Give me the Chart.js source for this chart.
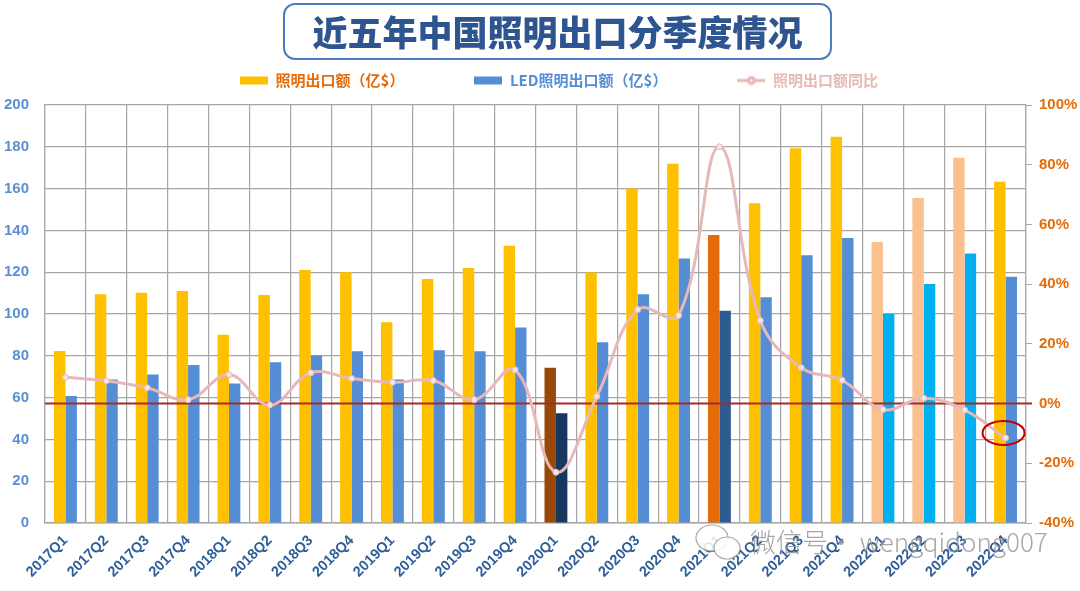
<!DOCTYPE html>
<html>
<head>
<meta charset="utf-8">
<script src="https://cdn.jsdelivr.net/npm/chart.js@4.4.0/dist/chart.umd.min.js"></script>
<style>
  html, body { margin: 0; padding: 0; background: #fff; }
  #wrap { position: relative; width: 1080px; height: 591px; }
  #title {
    position: absolute; left: 283px; top: 3px; width: 549px; height: 57px;
    box-sizing: border-box; border: 2.5px solid #4a7cc4; border-radius: 12px;
    text-align: center; line-height: 52px;
    font: 900 35px "Noto Sans CJK SC", sans-serif; color: #2f5590;
    background: #fff; z-index: 2;
  }
  canvas { position: absolute; left: 0; top: 0; }
</style>
</head>
<body>
<div id="wrap">
  <div id="title">近五年中国照明出口分季度情况</div>
  <canvas id="chart" width="1080" height="591"></canvas>
</div>
<script>
// quarters 2017Q1 .. 2022Q4
const quarters = [
  "2017Q1", "2017Q2", "2017Q3", "2017Q4",
  "2018Q1", "2018Q2", "2018Q3", "2018Q4",
  "2019Q1", "2019Q2", "2019Q3", "2019Q4",
  "2020Q1", "2020Q2", "2020Q3", "2020Q4",
  "2021Q1", "2021Q2", "2021Q3", "2021Q4",
  "2022Q1", "2022Q2", "2022Q3", "2022Q4"
];
// 照明出口额（亿$）
const lightingExport = [
  82.3, 109.4, 110.2, 111.0,
  90.1, 109.1, 121.0, 120.0,
  96.0, 116.7, 122.0, 132.7,
  74.3, 119.8, 160.1, 171.9,
  137.8, 153.0, 179.3, 184.8,
  134.4, 155.5, 174.8, 163.3
];
// LED照明出口额（亿$）
const ledExport = [
  60.8, 68.7, 71.1, 75.6,
  66.7, 76.9, 80.2, 82.2,
  68.7, 82.6, 82.2, 93.6,
  52.5, 86.5, 109.4, 126.5,
  101.6, 108.0, 128.1, 136.4,
  100.0, 114.4, 128.9, 117.8
];
// 照明出口额同比 (%)
const lightingYoY = [
  8.8, 7.6, 5.3, 1.3,
  9.7, -0.5, 10.3, 8.4,
  7.1, 7.7, 1.3, 11.3,
  -23.0, 2.4, 31.5, 29.5,
  86.0, 27.8, 12.0, 7.8,
  -2.0, 1.8, -2.2, -11.5
];
const leftTicks = { min: 0, max: 200, step: 20 };
const rightTicks = { min: -40, max: 100, step: 20 };

// highlighted bars get their own colours
const yellowColors = quarters.map((q, i) => {
  if (i === 12) return "#984807";
  if (i === 16) return "#e36c09";
  if (i >= 20 && i <= 22) return "#fac090";
  return "#ffc000";
});
const blueColors = quarters.map((q, i) => {
  if (i === 12) return "#17375e";
  if (i === 16) return "#2e5b92";
  if (i >= 20 && i <= 22) return "#00b0f0";
  return "#558ed5";
});

// little legend swatches
function swatch(draw) {
  const c = document.createElement("canvas");
  c.width = 28; c.height = 10;
  draw(c.getContext("2d"));
  return c;
}
const yellowSwatch = swatch(ctx => { ctx.fillStyle = "#ffc000"; ctx.fillRect(0, 1, 28, 8); });
const blueSwatch = swatch(ctx => { ctx.fillStyle = "#558ed5"; ctx.fillRect(0, 1, 28, 8); });
const lineSwatch = swatch(ctx => {
  ctx.strokeStyle = "#e6b9b8"; ctx.lineWidth = 3;
  ctx.beginPath(); ctx.moveTo(0, 5); ctx.lineTo(28, 5); ctx.stroke();
  ctx.fillStyle = "#f7e4e4"; ctx.beginPath(); ctx.arc(14, 5, 3, 0, Math.PI * 2); ctx.fill(); ctx.stroke();
});

const legendHeight = {
  id: "legendHeight",
  beforeInit(chart) {
    const fit = chart.legend.fit;
    chart.legend.fit = function () {
      fit.bind(this)();
      this.height = 105;
    };
  },
  afterLayout(chart) {
    // nudge legend a bit right and down, like the original
    chart.legend.left += 19;
    chart.legend.right += 19;
    chart.legend.top += 3;
    chart.legend.bottom += 3;
  }
};

const zeroLine = {
  id: "zeroLine",
  beforeDatasetDraw(chart, args) {
    if (args.index !== 2) return;
    const { ctx, chartArea } = chart;
    const y = chart.scales.y1.getPixelForValue(0);
    ctx.save();
    ctx.strokeStyle = "#a52a2a";
    ctx.lineWidth = 2;
    ctx.beginPath();
    ctx.moveTo(chartArea.left, y);
    ctx.lineTo(chartArea.right + 6, y);
    ctx.stroke();
    ctx.restore();
  }
};

const extras = {
  id: "extras",
  afterDatasetsDraw(chart) {
    const { ctx } = chart;
    const pts = chart.getDatasetMeta(2).data;
    const p = pts[pts.length - 1];
    ctx.save();
    ctx.strokeStyle = "#c00000";
    ctx.lineWidth = 2;
    ctx.beginPath();
    ctx.ellipse(p.x - 2, p.y - 5, 21, 12, 0, 0, Math.PI * 2);
    ctx.stroke();
    ctx.restore();
  },
  afterDraw(chart) {
    // watermark
    const { ctx } = chart;
    ctx.save();
    ctx.strokeStyle = "rgba(150,150,150,0.8)";
    ctx.fillStyle = "rgba(255,255,255,0.85)";
    ctx.lineWidth = 1.2;
    ctx.beginPath(); ctx.ellipse(712, 538, 16, 13, 0, 0, Math.PI * 2); ctx.fill(); ctx.stroke();
    ctx.beginPath(); ctx.ellipse(727, 548, 13, 11, 0, 0, Math.PI * 2); ctx.fill(); ctx.stroke();
    ctx.font = "300 26px 'Noto Sans CJK SC', sans-serif";
    ctx.fillStyle = "rgba(150,150,150,0.85)";
    ctx.textBaseline = "middle";
    ctx.fillText("微信号· wengqidong007", 750, 542);
    ctx.restore();
  }
};

new Chart(document.getElementById("chart"), {
  data: {
    labels: quarters,
    datasets: [
      {
        type: "bar", label: "照明出口额（亿$）", data: lightingExport,
        backgroundColor: yellowColors, yAxisID: "y", order: 2,
        categoryPercentage: 0.56, barPercentage: 1.0
      },
      {
        type: "bar", label: "LED照明出口额（亿$）", data: ledExport,
        backgroundColor: blueColors, yAxisID: "y", order: 2,
        categoryPercentage: 0.56, barPercentage: 1.0
      },
      {
        type: "line", label: "照明出口额同比", data: lightingYoY,
        yAxisID: "y1", order: 1,
        borderColor: "#e6b9b8", borderWidth: 3, tension: 0.4,
        pointRadius: 3, pointBackgroundColor: "#f7e4e4", pointBorderColor: "#e6b9b8",
        pointBorderWidth: 1
      }
    ]
  },
  options: {
    responsive: false,
    animation: false,
    layout: { padding: { top: 0, left: 0, right: 0, bottom: 0 } },
    plugins: {
      legend: {
        position: "top",
        labels: {
          usePointStyle: true,
          pointStyleWidth: 28,
          padding: 70,
          font: { size: 15, weight: "bold", family: "'Noto Sans CJK SC', sans-serif" },
          generateLabels(chart) {
            const styles = [yellowSwatch, blueSwatch, lineSwatch];
            const colors = ["#e46c0a", "#558ed5", "#e6b9b8"];
            return chart.data.datasets.map((ds, i) => ({
              text: ds.label, datasetIndex: i,
              pointStyle: styles[i], fontColor: colors[i],
              fillStyle: "transparent", strokeStyle: "transparent", lineWidth: 0
            }));
          }
        }
      },
      tooltip: { enabled: false }
    },
    scales: {
      x: {
        offset: true,
        grid: { offset: true, color: "#a6a6a6", lineWidth: 1.2, drawTicks: false },
        border: { color: "#a6a6a6", width: 1.5 },
        ticks: {
          autoSkip: false, maxRotation: 45, minRotation: 45, padding: 9,
          color: "#2f5f98",
          font: { size: 14.5, weight: "bold", family: "'Liberation Sans', Arial, sans-serif" }
        },
        afterFit(scale) { scale.height = 68; }
      },
      y: {
        position: "left",
        min: leftTicks.min, max: leftTicks.max,
        grid: { color: "#a6a6a6", lineWidth: 1.2, drawTicks: false },
        border: { color: "#a6a6a6", width: 1.2 },
        ticks: {
          stepSize: leftTicks.step, padding: 16, color: "#5b8fd5",
          font: { size: 15, weight: "bold", family: "'Liberation Sans', Arial, sans-serif" }
        },
        afterFit(scale) { scale.width = 45; }
      },
      y1: {
        position: "right",
        min: rightTicks.min, max: rightTicks.max,
        grid: { drawOnChartArea: false, color: "#a6a6a6", tickLength: 6 },
        border: { color: "#a6a6a6", width: 1.2 },
        ticks: {
          stepSize: rightTicks.step, padding: 7, color: "#e46c0a",
          font: { size: 15, weight: "bold", family: "'Liberation Sans', Arial, sans-serif" },
          callback: v => v + "%"
        },
        afterFit(scale) { scale.width = 54; }
      }
    }
  },
  plugins: [legendHeight, zeroLine, extras]
});
</script>
</body>
</html>
